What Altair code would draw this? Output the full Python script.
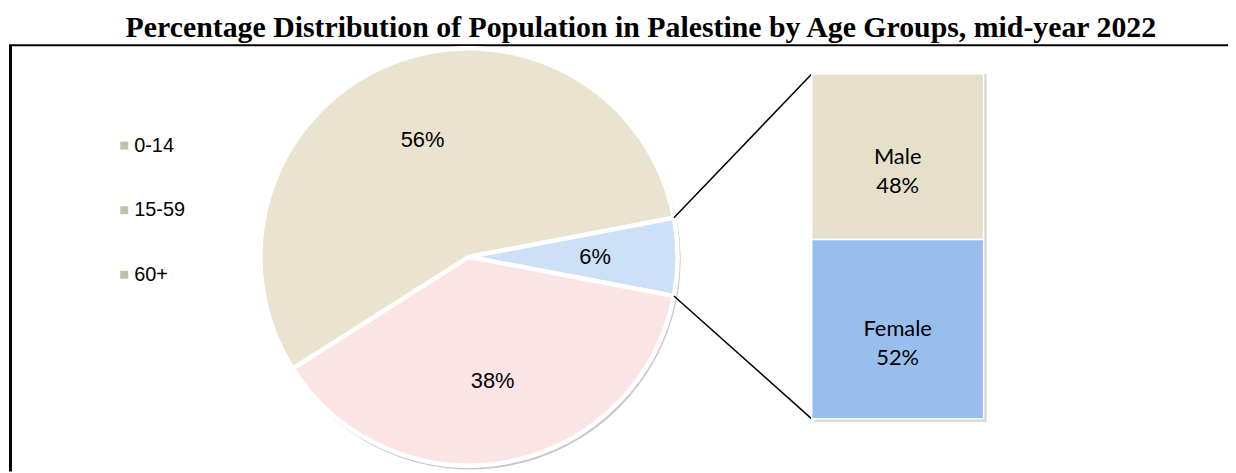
import math
import altair as alt
import pandas as pd

# ---------------- data ----------------
TITLE = "Percentage Distribution of Population in Palestine by Age Groups, mid-year 2022"
AGE_GROUPS = ["0-14", "15-59", "60+"]
AGE_SHARE = [38, 56, 6]
PIE_ORDER = ["15-59", "60+", "0-14"]          # clockwise drawing order of the slices
BROKEN_OUT = "60+"                             # slice expanded into the bar
GENDERS = ["Male", "Female"]
GENDER_SHARE = [48, 52]

# ---------------- style / layout ----------------
PIE_COLORS = ["#E9E3CF", "#CCE0F8", "#FCE4E4"]   # follows PIE_ORDER
BAR_COLORS = ["#E6E0CB", "#98BEEE"]              # follows GENDERS
LEGEND_SYMBOL = "#C6BFA8"

W, H = 1227, 465          # view size (page minus margin)
OX, OY = 9, 8             # page position of the view origin


def px(x):
    return x - OX


def py(y):
    return y - OY


PIE_CX, PIE_CY, PIE_R = px(472), py(257), 210
LABEL_R = 127
BAR_X0, BAR_X1 = px(817), px(990)
BAR_TOP, BAR_BOT = py(73), py(420)
LEG_X, LEG_TX = px(125), px(135)
LEG_Y0, LEG_Y1 = py(145), py(275)
BORDER_Y = py(44)
TITLE_X, TITLE_Y = px(645), py(36)

# ---------------- tables ----------------
share_of = dict(zip(AGE_GROUPS, AGE_SHARE))
total = sum(AGE_SHARE)
pie_df = pd.DataFrame({
    "group": PIE_ORDER,
    "share": [share_of[g] for g in PIE_ORDER],
    "i": list(range(len(PIE_ORDER))),
})
pie_df["label"] = pie_df["share"].astype(str) + "%"

before = sum(share_of[g] for g in PIE_ORDER[:PIE_ORDER.index(BROKEN_OUT)])
start = math.pi / 2 - (before + share_of[BROKEN_OUT] / 2) / total * 2 * math.pi
theta_scale = alt.Scale(domain=[0, total], range=[start, start + 2 * math.pi])

# angles of the broken-out slice edges -> connector start points
a0 = start + before / total * 2 * math.pi
a1 = a0 + share_of[BROKEN_OUT] / total * 2 * math.pi
conn_df = pd.DataFrame({
    "x": [PIE_CX + PIE_R * math.sin(a0), PIE_CX + PIE_R * math.sin(a1)],
    "y": [PIE_CY - PIE_R * math.cos(a0), PIE_CY - PIE_R * math.cos(a1)],
    "x2": [BAR_X0, BAR_X0],
    "y2": [BAR_TOP, BAR_BOT],
})

gsum = sum(GENDER_SHARE)
bar_df = pd.DataFrame({
    "gender": GENDERS,
    "share": GENDER_SHARE,
    "grp": [BROKEN_OUT] * len(GENDERS),
    "i": list(range(len(GENDERS)))[::-1],   # first gender on top
})
bar_df["label"] = bar_df["gender"] + "\n" + bar_df["share"].astype(str) + "%"

leg_df = pd.DataFrame({"group": AGE_GROUPS})
one = pd.DataFrame({"t": [TITLE]})

# ---------------- layers ----------------
pie_base = alt.Chart(pie_df).encode(
    theta=alt.Theta("share:Q", stack=True, scale=theta_scale),
    order=alt.Order("i:Q"),
    x=alt.value(PIE_CX),
    y=alt.value(PIE_CY),
)
pie_shadow = pie_base.mark_arc(
    radius=PIE_R + 1.5, color="#C8C8C8", xOffset=1.5, yOffset=2.5
)
slices = pie_base.mark_arc(
    radius=PIE_R, stroke="white", strokeWidth=4.5
).encode(
    color=alt.Color("group:N", scale=alt.Scale(domain=PIE_ORDER, range=PIE_COLORS), legend=None)
)
slice_labels = pie_base.mark_text(
    radius=LABEL_R, font="Liberation Sans", fontSize=22, color="black"
).encode(text="label:N")

connectors = alt.Chart(conn_df).mark_rule(color="black", strokeWidth=1.5).encode(
    x=alt.X("x:Q", scale=None, axis=None),
    y=alt.Y("y:Q", scale=None, axis=None),
    x2="x2:Q",
    y2="y2:Q",
)

bar_base = alt.Chart(bar_df).transform_stack(
    stack="share", as_=["s0", "s1"], groupby=[], sort=[alt.SortField("i", order="ascending")]
).transform_calculate(mid="(datum.s0 + datum.s1) / 2")
bar_x = alt.X("grp:N", axis=None,
              scale=alt.Scale(domain=[BROKEN_OUT], range=[BAR_X0, BAR_X1],
                              paddingInner=0, paddingOuter=0))
bar_y = alt.Scale(domain=[0, gsum], range=[BAR_BOT, BAR_TOP])
bar_shadow = bar_base.mark_bar(color="#D6D6D6", xOffset=3, yOffset=3).encode(
    x=bar_x, y=alt.Y("s0:Q", scale=bar_y, axis=None), y2="s1:Q"
)
bars = bar_base.mark_bar(stroke="white", strokeWidth=1.5).encode(
    x=bar_x,
    y=alt.Y("s0:Q", scale=bar_y, axis=None),
    y2="s1:Q",
    color=alt.Color("gender:N", scale=alt.Scale(domain=GENDERS, range=BAR_COLORS), legend=None),
)
bar_labels = bar_base.mark_text(
    font="Lato", fontSize=22, lineBreak="\n", lineHeight=29, baseline="middle", color="black"
).encode(x=bar_x, y=alt.Y("mid:Q", scale=bar_y, axis=None), text="label:N")

leg_y = alt.Y("group:N", axis=None,
              scale=alt.Scale(type="point", domain=AGE_GROUPS, range=[LEG_Y0, LEG_Y1],
                              padding=0))
leg_sym = alt.Chart(leg_df).mark_square(size=64, color=LEGEND_SYMBOL, opacity=1).encode(
    x=alt.value(LEG_X), y=leg_y
)
leg_txt = alt.Chart(leg_df).mark_text(
    align="left", baseline="middle", font="Liberation Sans", fontSize=20, color="black"
).encode(x=alt.value(LEG_TX), y=leg_y, text="group:N")

title = alt.Chart(one).mark_text(
    font="Liberation Serif", fontWeight="bold", fontSize=30, baseline="alphabetic",
    align="center", color="black"
).encode(x=alt.value(TITLE_X), y=alt.value(TITLE_Y), text="t:N")

border_top = alt.Chart(one).mark_rule(color="black", strokeWidth=2).encode(
    x=alt.value(0), x2=alt.value(W), y=alt.value(BORDER_Y)
)
border_left = alt.Chart(one).mark_rule(color="black", strokeWidth=3).encode(
    x=alt.value(1.5), y=alt.value(BORDER_Y), y2=alt.value(H)
)

chart = alt.layer(
    border_top, border_left, title,
    pie_shadow, slices, slice_labels, connectors,
    bar_shadow, bars, bar_labels,
    leg_sym, leg_txt,
).resolve_scale(
    x="independent", y="independent", color="independent", theta="independent"
).properties(
    width=W, height=H,
    padding={"left": 1, "top": 0, "right": 0, "bottom": 0},
    autosize=alt.AutoSizeParams(type="none"),
).configure_view(stroke=None)

chart.save("out.html", embed_options={"renderer": "svg", "actions": False})
